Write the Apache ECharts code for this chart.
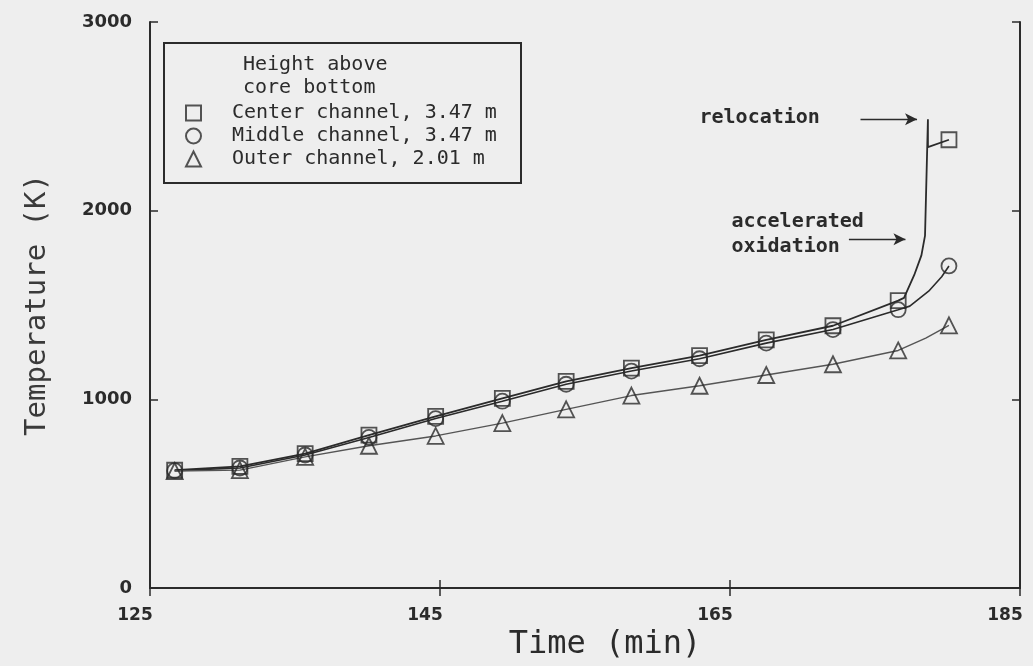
<!DOCTYPE html>
<html>
<head>
<meta charset="utf-8">
<script src="https://cdn.jsdelivr.net/npm/echarts@6/dist/echarts.min.js"></script>
<style>
html,body{margin:0;padding:0;background:#eeeeee;}
#c{width:1033px;height:666px;}
</style>
</head>
<body>
<div id="c"></div>
<script>
// ---- data ----
const times   = [126.7, 131.2, 135.7, 140.1, 144.7, 149.3, 153.7, 158.2, 162.9, 167.5, 172.1, 176.6, 180.1];
const centerK = [624, 645, 712, 810, 910, 1005, 1095, 1165, 1232, 1315, 1390, 1523, 2376];
const middleK = [622, 636, 705, 798, 898, 990, 1080, 1150, 1215, 1298, 1370, 1475, 1707];
const outerK  = [620, 625, 695, 754, 806, 874, 947, 1020, 1072, 1129, 1186, 1259, 1392];

// unmarked points of the curves between the last two markers
const centerRiseT = [177.0, 177.7, 178.2, 178.45, 178.65, 178.65];
const centerRiseK = [1538, 1658, 1763, 1868, 2484, 2337];
const middleBendT = [177.4, 178.7, 179.6];
const middleBendK = [1494, 1573, 1650];
const outerBendT  = [178.5];
const outerBendK  = [1325];

const seriesNames = ['Center channel, 3.47 m', 'Middle channel, 3.47 m', 'Outer channel, 2.01 m'];
const legendHeader = ['Height above', 'core bottom'];
const xTicks = [125, 145, 165, 185];
const yTicks = [0, 1000, 2000, 3000];

// annotations (data coordinates)
const relocationArrow = [[174.0, 2484], [177.9, 2484]];
const oxidationArrow  = [[173.2, 1848], [177.1, 1848]];
const relocationText  = [171.2, 2484];
const oxidationText   = [165.1, 1848];

// ---- build ----
function pairs(t, v) { return t.map((x, i) => [x, v[i]]); }
const n = times.length;
const centerLine = pairs(times.slice(0, n - 1), centerK.slice(0, n - 1))
  .concat(pairs(centerRiseT, centerRiseK))
  .concat([[times[n - 1], centerK[n - 1]]]);
const middleLine = pairs(times.slice(0, n - 1), middleK.slice(0, n - 1))
  .concat(pairs(middleBendT, middleBendK))
  .concat([[times[n - 1], middleK[n - 1]]]);
const outerLine = pairs(times.slice(0, n - 1), outerK.slice(0, n - 1))
  .concat(pairs(outerBendT, outerBendK))
  .concat([[times[n - 1], outerK[n - 1]]]);

const INK = '#2b2b2b';
const FONT = 'DejaVu Sans';
const MONO = 'DejaVu Sans Mono';
const hollow = { color: 'rgba(0,0,0,0)', borderColor: INK, borderWidth: 1.8 };

const chart = echarts.init(document.getElementById('c'), null, { renderer: 'canvas' });

const axisCommon = {
  type: 'value', min: 125, max: 185, interval: 20,
  axisLine: { show: true, lineStyle: { color: INK, width: 2 } },
  axisTick: { show: true, inside: true, length: 8, lineStyle: { color: INK, width: 1.5 } },
  splitLine: { show: false }
};
const yCommon = {
  type: 'value', min: 0, max: 3000, interval: 1000,
  axisLine: { show: true, lineStyle: { color: INK, width: 2 } },
  axisTick: { show: true, inside: true, length: 8, lineStyle: { color: INK, width: 1.5 } },
  splitLine: { show: false }
};

const option = {
  backgroundColor: '#eeeeee',
  animation: false,
  textStyle: { fontFamily: FONT, color: INK },
  grid: { left: 150, right: 13, top: 22, bottom: 78, containLabel: false, outerBoundsMode: 'none' },
  xAxis: [
    Object.assign({}, axisCommon, {
      position: 'bottom',
      axisLabel: {
        show: true, color: INK, fontFamily: FONT, fontSize: 17, fontWeight: 'bold',
        margin: 19, padding: [0, 30, 0, 0],
        formatter: v => String(v),
        customValues: xTicks
      },
      name: 'Time (min)', nameLocation: 'middle', nameGap: 38,
      nameTextStyle: { fontFamily: MONO, fontSize: 32, color: INK, padding: [0, 0, 0, 40] }
    }),
    Object.assign({}, axisCommon, { position: 'top', axisLabel: { show: false } })
  ],
  yAxis: [
    Object.assign({}, yCommon, {
      position: 'left',
      axisLabel: { show: true, color: INK, fontFamily: FONT, fontSize: 18, fontWeight: 'bold', margin: 18,
        formatter: v => String(v), customValues: yTicks },
      name: 'Temperature (K)', nameLocation: 'middle', nameRotate: 90, nameGap: 98,
      nameTextStyle: { fontFamily: MONO, fontSize: 29, color: '#3a3a3a' }
    }),
    Object.assign({}, yCommon, { position: 'right', axisLabel: { show: false } })
  ],
  legend: {
    orient: 'vertical', left: 180, top: 98,
    itemWidth: 15, itemHeight: 15, itemGap: 3,
    data: seriesNames,
    textStyle: { fontFamily: MONO, fontSize: 20, color: INK, padding: [0, 0, 0, 26] },
    selectedMode: false
  },
  graphic: [
    { type: 'rect', left: 163, top: 42, shape: { width: 357, height: 140 },
      style: { fill: 'rgba(0,0,0,0)', stroke: INK, lineWidth: 2 }, z: 10 },
    { type: 'text', left: 243, top: 55, style: { text: legendHeader[0], font: '20px "DejaVu Sans Mono"', fill: INK }, z: 10 },
    { type: 'text', left: 243, top: 78, style: { text: legendHeader[1], font: '20px "DejaVu Sans Mono"', fill: INK }, z: 10 }
  ],
  series: [
    { type: 'line', data: centerLine, showSymbol: false, symbol: 'none', lineStyle: { color: INK, width: 1.8 }, z: 2, silent: true,
      markLine: {
        silent: true, symbol: ['none', 'arrow'], symbolSize: [9, 12],
        lineStyle: { color: INK, width: 1.4, type: 'solid' }, label: { show: false },
        data: [
          [{ coord: relocationArrow[0] }, { coord: relocationArrow[1] }],
          [{ coord: oxidationArrow[0] }, { coord: oxidationArrow[1] }]
        ]
      },
      markPoint: {
        silent: true, symbol: 'circle', symbolSize: 0,
        data: [
          { coord: relocationText, label: { show: true, position: [0, -2], align: 'right', verticalAlign: 'middle',
              formatter: 'relocation', fontFamily: MONO, fontSize: 20, fontWeight: 'bold', color: INK } },
          { coord: oxidationText, label: { show: true, position: [0, -5], align: 'left', verticalAlign: 'middle',
              formatter: 'accelerated\noxidation', lineHeight: 25, fontFamily: MONO, fontSize: 20, fontWeight: 'bold', color: INK } }
        ]
      }
    },
    { type: 'line', data: middleLine, showSymbol: false, symbol: 'none', lineStyle: { color: INK, width: 1.6 }, z: 2, silent: true },
    { type: 'line', data: outerLine, showSymbol: false, symbol: 'none', lineStyle: { color: '#555', width: 1.4 }, z: 2, silent: true },
    { name: seriesNames[0], type: 'scatter', data: pairs(times, centerK), symbol: 'rect', symbolSize: 15, itemStyle: hollow, z: 5 },
    { name: seriesNames[1], type: 'scatter', data: pairs(times, middleK), symbol: 'circle', symbolSize: 15, itemStyle: hollow, z: 5 },
    { name: seriesNames[2], type: 'scatter', data: pairs(times, outerK), symbol: 'triangle', symbolSize: 16, itemStyle: hollow, z: 5 }
  ]
};
chart.setOption(option);
</script>
</body>
</html>
